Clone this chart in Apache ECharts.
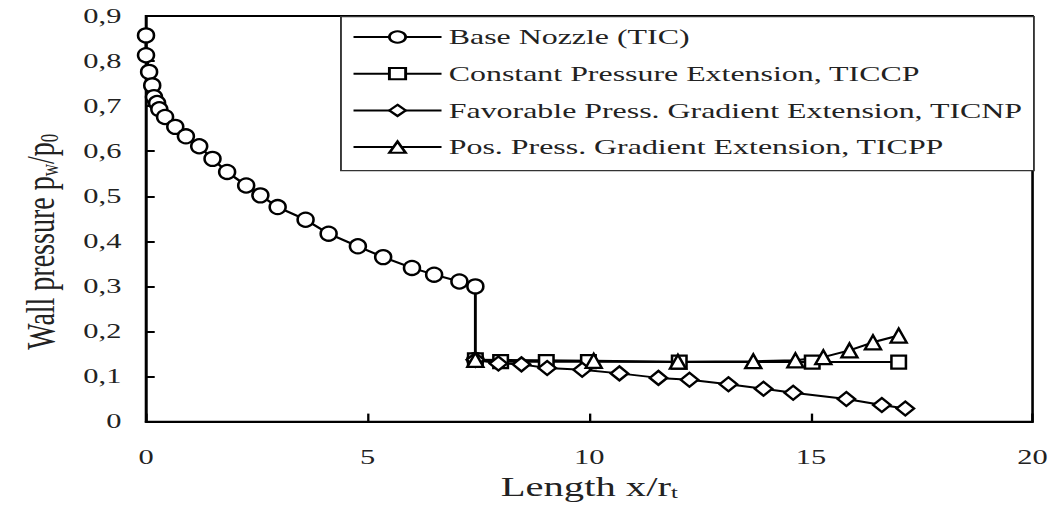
<!DOCTYPE html>
<html><head><meta charset="utf-8">
<script src="https://cdn.jsdelivr.net/npm/echarts@6/dist/echarts.min.js"></script>
<style>html,body{margin:0;padding:0;background:#fff;overflow:hidden;width:1059px;height:506px}
#c{width:730.34px;height:506px;transform:scaleX(1.45);transform-origin:0 0}</style>
</head><body><div id="c"></div>
<script>
const seriesNames = ['Base Nozzle (TIC)', 'Constant Pressure Extension, TICCP', 'Favorable Press. Gradient Extension, TICNP', 'Pos. Press. Gradient Extension, TICPP'];
const baseX = [0, 0, 0.07, 0.14, 0.18, 0.25, 0.3, 0.43, 0.66, 0.9, 1.2, 1.5, 1.83, 2.26, 2.58, 2.97, 3.6, 4.12, 4.78, 5.35, 6.0, 6.5, 7.07, 7.43, 7.43];
const baseY = [0.857, 0.813, 0.776, 0.746, 0.72, 0.707, 0.693, 0.676, 0.654, 0.633, 0.611, 0.583, 0.554, 0.524, 0.502, 0.476, 0.448, 0.417, 0.389, 0.365, 0.341, 0.326, 0.311, 0.3, 0.137];
const ccpX = [7.43, 8.0, 9.03, 9.98, 12.03, 15.03, 16.98];
const ccpY = [0.137, 0.133, 0.133, 0.133, 0.132, 0.132, 0.132];
const cnpX = [7.43, 7.95, 8.47, 9.05, 9.84, 10.68, 11.56, 12.26, 13.14, 13.93, 14.6, 15.8, 16.6, 17.13];
const cnpY = [0.137, 0.129, 0.127, 0.119, 0.115, 0.107, 0.097, 0.093, 0.083, 0.073, 0.064, 0.05, 0.037, 0.029];
const cppX = [7.43, 10.1, 12.0, 13.7, 14.65, 15.28, 15.87, 16.4, 16.98];
const cppY = [0.137, 0.135, 0.133, 0.134, 0.136, 0.143, 0.158, 0.176, 0.191];
const xTicks = [0, 5, 10, 15, 20];
const yTicks = [0, 0.1, 0.2, 0.3, 0.4, 0.5, 0.6, 0.7, 0.8, 0.9];

const zip = (xs, ys) => xs.map((x, i) => [x, ys[i]]);
const FONT = '"Liberation Serif", "DejaVu Serif", serif';
const TXT = '#222';

function mk(name, data, symbol, size) {
  return {
    name, type: 'line', data, symbol, symbolSize: size, showSymbol: true,
    lineStyle: { color: '#000', width: 2 },
    itemStyle: { color: '#fff', borderColor: '#000', borderWidth: 2 },
    emphasis: { disabled: true }, animation: false
  };
}

const chart = echarts.init(document.getElementById('c'), null, { renderer: 'svg' });
chart.setOption({
  backgroundColor: '#fff',
  animation: false,
  grid: { left: 100.7, right: 17.9, top: 16, bottom: 75, show: true, borderColor: '#000', borderWidth: 1.8, containLabel: false },
  graphic: [{
    type: 'rect', left: 234.5, top: 16, z: 5,
    shape: { width: 477.9, height: 154 },
    style: { fill: '#fff', stroke: '#333', lineWidth: 1.3 }
  }],
  legend: {
    orient: 'vertical', left: 242.8, top: 26, padding: 0, z: 10,
    itemWidth: 60.7, itemHeight: 14, itemGap: 14.7,
    textStyle: { fontFamily: FONT, fontSize: 22, color: TXT, lineHeight: 22 },
    data: seriesNames
  },
  xAxis: {
    type: 'value', min: 0, max: 20, interval: 5,
    axisLine: { show: true, lineStyle: { color: '#000', width: 2 } },
    axisTick: { show: true, inside: true, length: 8, lineStyle: { color: '#000', width: 1.6 } },
    splitLine: { show: false },
    axisLabel: { margin: 25, fontFamily: FONT, fontSize: 21, color: TXT },
    name: 'Length x/r{sub|t}', nameLocation: 'middle', nameGap: 42,
    nameTextStyle: { fontFamily: FONT, fontSize: 28, color: TXT,
      rich: { sub: { fontFamily: FONT, fontSize: 17, color: TXT, padding: [12, 0, 0, 0] } } }
  },
  yAxis: {
    type: 'value', min: 0, max: 0.9, interval: 0.1,
    axisLine: { show: true, lineStyle: { color: '#000', width: 1.6 } },
    axisTick: { show: true, inside: true, length: 6, lineStyle: { color: '#000', width: 2 } },
    splitLine: { show: false },
    axisLabel: { margin: 17, fontFamily: FONT, fontSize: 21, color: TXT,
      formatter: v => { const t = yTicks.find(k => Math.abs(k - v) < 1e-9); const s = (t === undefined ? v : t); return s === 0 ? '0' : s.toFixed(1).replace('.', ','); } },
    name: 'Wall pressure p{sub|w}/p{sub|0}', nameLocation: 'middle', nameGap: 58, nameRotate: 90,
    nameTextStyle: { fontFamily: FONT, fontSize: 28, color: TXT, padding: [0, 46, 0, 0],
      rich: { sub: { fontFamily: FONT, fontSize: 17, color: TXT, padding: [12, 0, 0, 0] } } }
  },
  series: [
    mk(seriesNames[0], zip(baseX, baseY), 'circle', [11, 14]),
    mk(seriesNames[1], zip(ccpX, ccpY), 'rect', [10, 13]),
    mk(seriesNames[2], zip(cnpX, cnpY), 'diamond', [12, 14]),
    mk(seriesNames[3], zip(cppX, cppY), 'triangle', [11, 14])
  ]
});
</script></body></html>
